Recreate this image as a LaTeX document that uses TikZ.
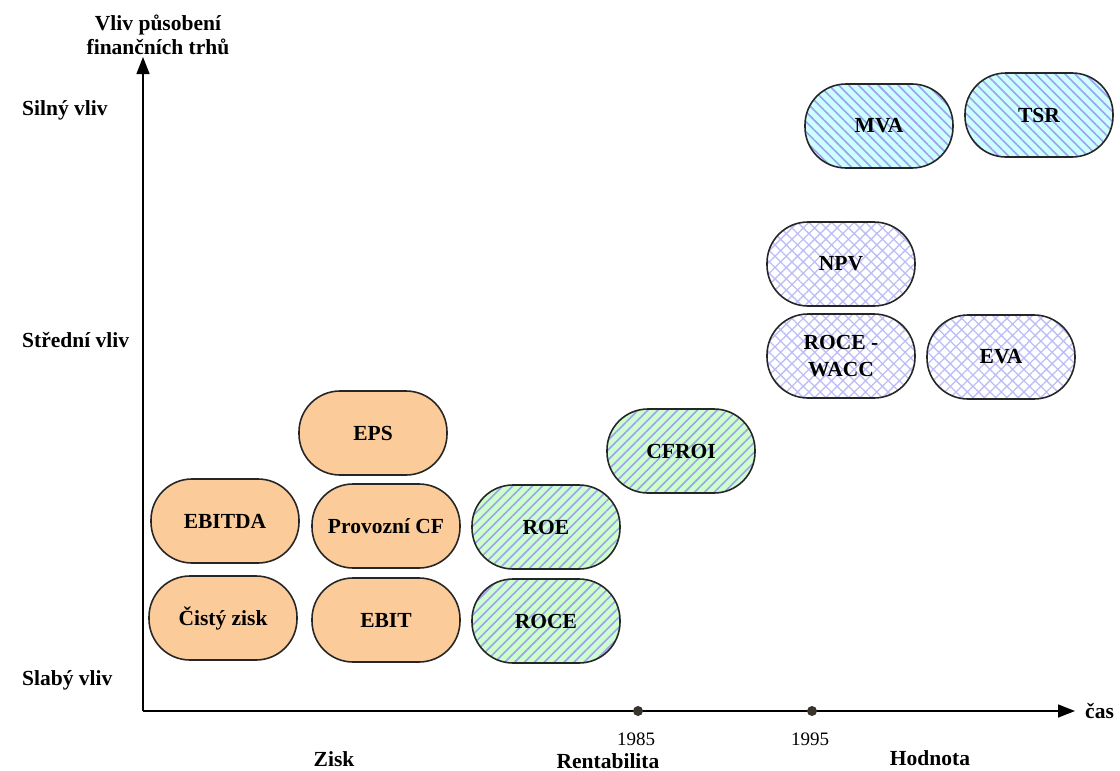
\documentclass[tikz,border=0pt]{standalone}
\usepackage{fontspec}
\setmainfont{Liberation Serif}
\usetikzlibrary{patterns.meta,arrows.meta}
\definecolor{peach}{HTML}{FBCB99}
\definecolor{mint}{HTML}{CCFFCC}
\definecolor{cyanl}{HTML}{CCFFFF}
\definecolor{hatch}{HTML}{A0A0F0}
\definecolor{xhatch}{HTML}{BDBDF8}
\tikzset{
  pill/.style={draw=black!85, line width=1.6pt, rounded corners=41pt,
    minimum width=148pt, minimum height=84pt, align=center,
    font=\fontsize{21.5}{27}\selectfont\bfseries, inner sep=0pt},
  orange/.style={pill, fill=peach},
  greenh/.style={pill, preaction={fill=mint},
    pattern={Lines[angle=45,distance=7pt,line width=1.6pt]}, pattern color=hatch},
  blueh/.style={pill, preaction={fill=cyanl},
    pattern={Lines[angle=-45,distance=7pt,line width=1.6pt]}, pattern color=hatch},
  crossh/.style={pill, preaction={fill=white},
    pattern={Hatch[angle=45,distance=8pt,line width=1.3pt]}, pattern color=xhatch},
  axis/.style={line width=1.4pt, -{Triangle[length=17pt,width=13pt]}},
  lbl/.style={font=\fontsize{21.5}{24}\selectfont\bfseries, inner sep=0pt},
  yr/.style={font=\fontsize{19}{22}\selectfont, inner sep=0pt},
  dot/.style={circle, fill=black!80!olive, inner sep=0pt, minimum size=10pt},
}
\begin{document}
\begin{tikzpicture}[x=1pt,y=-1pt]
\useasboundingbox (0,0) rectangle (1120,771);
% axes
\coordinate (O) at (143,711);
\coordinate (Ytip) at (143,57);
\coordinate (Xtip) at (1075,711);
\draw[axis] (O) -- (Ytip);
\draw[axis] (O) -- (Xtip);
% time points
\node[dot] (t85) at (638,711) {};
\node[dot] (t95) at (812,711) {};
% axis labels
\node[lbl, align=center] (ylab) at (158,35) {Vliv působení\\finančních trhů};
\node[lbl, anchor=west] (silny) at (22,110) {Silný vliv};
\node[lbl, anchor=west] (stredni) at (22,340) {Střední vliv};
\node[lbl, anchor=west] (slaby) at (22,680) {Slabý vliv};
\node[lbl, anchor=west] (cas) at (1085,711) {čas};
\node[yr] (y85) at (636,739) {1985};
\node[yr] (y95) at (810,739) {1995};
\node[lbl] (zisk) at (334,759) {Zisk};
\node[lbl] (rent) at (608,761) {Rentabilita};
\node[lbl] (hod) at (930,758) {Hodnota};
% nodes
\node[orange] (eps) at (373,433) {EPS};
\node[orange] (ebitda) at (225,521) {EBITDA};
\node[orange] (pcf) at (386,526) {Provozní CF};
\node[orange] (cz) at (223,618) {Čistý zisk};
\node[orange] (ebit) at (386,620) {EBIT};
\node[greenh] (roe) at (546,527) {ROE};
\node[greenh] (roce) at (546,621) {ROCE};
\node[greenh] (cfroi) at (681,451) {CFROI};
\node[crossh] (npv) at (841,264) {NPV};
\node[crossh] (rw) at (841,356) {ROCE -\\WACC};
\node[crossh] (eva) at (1001,357) {EVA};
\node[blueh] (mva) at (879,126) {MVA};
\node[blueh] (tsr) at (1039,115) {TSR};
\end{tikzpicture}
\end{document}
